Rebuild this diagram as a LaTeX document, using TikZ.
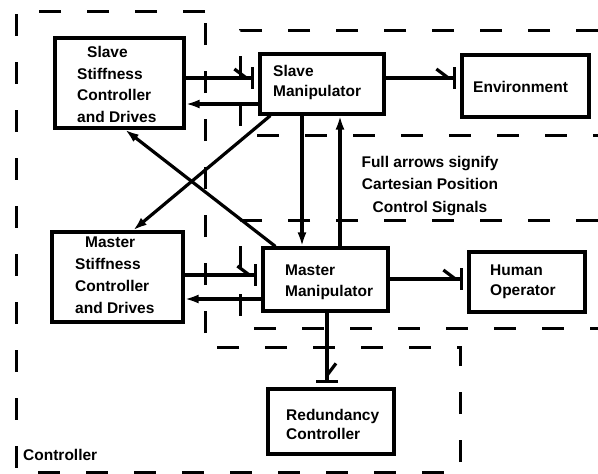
\documentclass[tikz,border=0pt]{standalone}
\usepackage{fontspec}
\setmainfont{Liberation Sans}
\usetikzlibrary{arrows.meta}
\begin{document}
\begin{tikzpicture}[x=1pt,y=-1pt,
  box/.style={draw, line width=3.2pt, inner sep=0pt},
  lbl/.style={inner sep=0pt, align=left, font=\fontsize{15.5}{21}\selectfont\bfseries},
  region/.style={line width=3pt, dash pattern=on 22pt off 26pt},
  sig/.style={line width=3.2pt, -{Straight Barb[harpoon,length=12pt,width=18pt]Bar[width=22pt]}, shorten >=4pt},
  full/.style={line width=3.2pt, -{Latex[length=14pt,width=9pt]}}
]
\fill[white] (0,0) rectangle (598,474);
\useasboundingbox (0,0) rectangle (598,474);

% dashed regions
\draw[region] (205,11) -- (16,11) -- (16,472) -- (460,472) -- (460,347) -- (205,347) -- cycle;
\draw[region] (598,30) -- (240,30) -- (240,135) -- (598,135);
\draw[region] (598,220) -- (240,220) -- (240,328) -- (598,328);

% boxes
\node[box, minimum width=129pt, minimum height=90pt] (ssc) at (119.5,83) {};
\node[box, minimum width=124pt, minimum height=60pt] (sm) at (322,84) {};
\node[box, minimum width=127pt, minimum height=62pt] (env) at (525.5,86) {};
\node[box, minimum width=131pt, minimum height=90pt] (msc) at (117.5,277) {};
\node[box, minimum width=125pt, minimum height=63pt] (mm) at (325.5,279.5) {};
\node[box, minimum width=116pt, minimum height=60pt] (ho) at (527,282) {};
\node[box, minimum width=126pt, minimum height=65pt] (rc) at (331,421.5) {};

% labels
\node[lbl, anchor=west, font=\fontsize{15.5}{21.7}\selectfont\bfseries] (ssct) at (77,84.5) {\hspace{10pt}Slave\\Stiffness\\Controller\\and Drives};
\node[lbl, anchor=west, font=\fontsize{15.5}{22}\selectfont\bfseries] (msct) at (75,275) {\hspace{10pt}Master\\Stiffness\\Controller\\and Drives};
\node[lbl, anchor=west, font=\fontsize{15.5}{20}\selectfont\bfseries] (smt) at (273,82) {Slave\\Manipulator};
\node[lbl, anchor=west] (mmt) at (285,282) {Master\\Manipulator};
\node[lbl, anchor=west] (envt) at (473,87) {Environment};
\node[lbl, anchor=west, font=\fontsize{15.5}{20}\selectfont\bfseries] (hot) at (490,282) {Human\\Operator};
\node[lbl, anchor=west, font=\fontsize{15.5}{19}\selectfont\bfseries] (rct) at (286,424.5) {Redundancy\\Controller};
\node[lbl, align=center, font=\fontsize{15.5}{22.5}\selectfont\bfseries] (note) at (430,186) {Full arrows signify\\Cartesian Position\\Control Signals};
\node[lbl, anchor=west] (ctl) at (23,455) {Controller};

% helper coordinates
\coordinate (y78) at (0,78);
\coordinate (y104) at (0,104);
\coordinate (y275) at (0,275);
\coordinate (y279) at (0,279);
\coordinate (y299) at (0,299);
\coordinate (x302) at (302,0);
\coordinate (x340) at (340,0);
\coordinate (x327) at (327,0);

% connectors
\draw[sig] (ssc.east |- y78) -- (sm.west |- y78);
\draw[full] (sm.west |- y104) -- (ssc.east |- y104);
\draw[sig] (sm.east |- y78) -- (env.west |- y78);
\draw[sig] (msc.east |- y275) -- (mm.west |- y275);
\draw[full] (mm.west |- y299) -- (msc.east |- y299);
\draw[sig] (mm.east |- y279) -- (ho.west |- y279);
\draw[sig] (mm.south -| x327) -- (rc.north -| x327);
\draw[full] (sm.south -| x302) -- (mm.north -| x302);
\draw[full] (mm.north -| x340) -- (sm.south -| x340);
\draw[full] ([xshift=12pt]sm.south west) -- ([xshift=15.5pt]msc.north);
\draw[full] ([xshift=14pt]mm.north west) -- ([xshift=5.5pt]ssc.south);
\end{tikzpicture}
\end{document}
